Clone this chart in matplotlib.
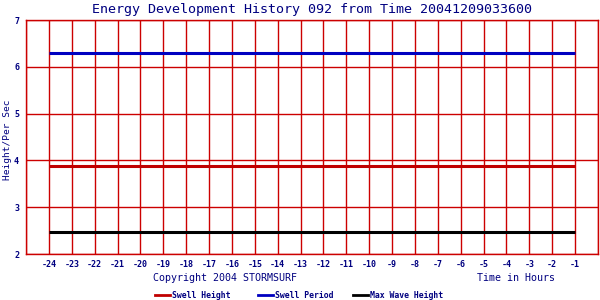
import numpy as np
import matplotlib
matplotlib.use("Agg")
import matplotlib.pyplot as plt
from matplotlib.lines import Line2D

## Donnees
hours = np.arange(-24, 0)
swell_height = [3.88, 3.88, 3.88, 3.88, 3.88, 3.88, 3.88, 3.88, 3.88, 3.88, 3.88, 3.88,
                3.88, 3.88, 3.88, 3.88, 3.88, 3.88, 3.88, 3.88, 3.88, 3.88, 3.88, 3.88]
swell_period = [6.3, 6.3, 6.3, 6.3, 6.3, 6.3, 6.3, 6.3, 6.3, 6.3, 6.3, 6.3,
                6.3, 6.3, 6.3, 6.3, 6.3, 6.3, 6.3, 6.3, 6.3, 6.3, 6.3, 6.3]
max_wave = [2.46, 2.46, 2.46, 2.46, 2.46, 2.46, 2.46, 2.46, 2.46, 2.46, 2.46, 2.46,
            2.46, 2.46, 2.46, 2.46, 2.46, 2.46, 2.46, 2.46, 2.46, 2.46, 2.46, 2.46]
series_names = ['Swell Height', 'Swell Period', 'Max Wave Height']
series_colors = ['#c00000', '#0000c0', '#000000']

plt.rcParams['font.family'] = 'DejaVu Sans Mono'
navy = '#000080'
grid_red = '#cc0000'

fig = plt.figure(figsize=(6, 3), dpi=100)
ax = fig.add_axes([26/600, 46/300, 572/600, 234/300])

for vals, col in zip([swell_height, swell_period, max_wave], series_colors):
    ax.plot(hours, vals, color=col, lw=2.2, solid_capstyle='butt', zorder=3)

ax.set_xlim(-25, 0)
ax.set_ylim(2, 7)
ax.set_xticks(np.arange(-25, 1))
ax.set_yticks(np.arange(2, 8))
ax.grid(True, color=grid_red, lw=1)
for s in ax.spines.values():
    s.set_color(grid_red)
    s.set_linewidth(1)
ax.tick_params(length=0, colors=navy, labelsize=6)
ax.set_xticklabels([str(h) if -24 <= h <= -1 else '' for h in range(-25, 1)],
                   fontweight='bold')
ax.set_yticklabels([str(v) for v in range(2, 8)], fontweight='bold')
ax.tick_params(axis='x', pad=4)
ax.tick_params(axis='y', pad=5)

fig.text(312/600, 1 - 10/300, 'Energy Development History 092 from Time 20041209033600',
         ha='center', va='center', color=navy, fontsize=9.6)
fig.text(8/600, 1 - 140/300, 'Height/Per Sec', rotation=90, ha='center', va='center',
         color=navy, fontsize=6.8)
fig.text(225/600, 1 - 278/300, 'Copyright 2004 STORMSURF', ha='center', va='center',
         color=navy, fontsize=7.2)
fig.text(516/600, 1 - 278/300, 'Time in Hours', ha='center', va='center',
         color=navy, fontsize=7.2)

## Legende
leg_x = [155, 258, 353]
for x0, name, col in zip(leg_x, series_names, series_colors):
    fig.add_artist(Line2D([x0/600, (x0 + 15)/600], [1 - 295/300, 1 - 295/300],
                          color=col, lw=2, transform=fig.transFigure))
    fig.text((x0 + 17)/600, 1 - 295/300, name, ha='left', va='center',
             color=navy, fontsize=5.9, fontweight='bold')

fig.savefig('out.png', dpi=100)
